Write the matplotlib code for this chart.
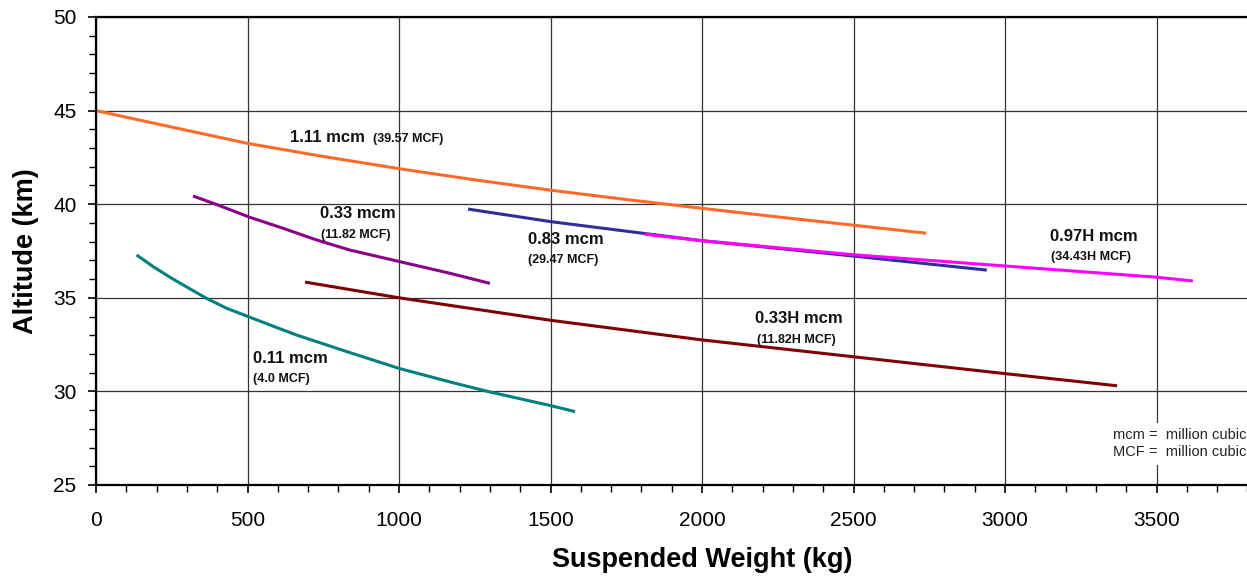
import matplotlib
matplotlib.use("Agg")
import matplotlib.pyplot as plt
from matplotlib.ticker import MultipleLocator

plt.rcParams['font.family'] = ['Liberation Sans', 'DejaVu Sans']

# ---- data ----
orange_x = [0, 250, 500, 750, 1000, 1250, 1500, 1750, 2000, 2250, 2500, 2740]
orange_y = [45.0, 44.12, 43.25, 42.55, 41.9, 41.3, 40.75, 40.25, 39.78, 39.32, 38.88, 38.45]

purple_x = [320, 400, 508, 618, 728, 838, 1003, 1168, 1300]
purple_y = [40.44, 39.97, 39.3, 38.71, 38.09, 37.55, 36.93, 36.31, 35.77]

teal_x = [134, 189, 244, 299, 365, 431, 497, 574, 662, 739, 827, 1000, 1179, 1300, 1498, 1581]
teal_y = [37.29, 36.66, 36.1, 35.58, 34.97, 34.44, 34.03, 33.55, 33.01, 32.6, 32.13,
          31.23, 30.46, 29.97, 29.25, 28.92]

brown_x = [690, 1000, 1500, 2000, 2500, 3000, 3370]
brown_y = [35.84, 35.0, 33.8, 32.75, 31.85, 30.95, 30.3]

navy_x = [1228, 1500, 1828, 2000, 2500, 2940]
navy_y = [39.74, 39.07, 38.4, 38.05, 37.23, 36.48]

magenta_x = [1810, 2000, 2500, 3000, 3500, 3620]
magenta_y = [38.4, 38.05, 37.3, 36.7, 36.1, 35.9]

x_ticks = [0, 500, 1000, 1500, 2000, 2500, 3000, 3500]
y_ticks = [25, 30, 35, 40, 45, 50]

labels_main = ["1.11 mcm", "0.33 mcm", "0.83 mcm", "0.97H mcm", "0.33H mcm", "0.11 mcm"]
labels_sub = ["(39.57 MCF)", "(11.82 MCF)", "(29.47 MCF)", "(34.43H MCF)", "(11.82H MCF)", "(4.0 MCF)"]
main_pos = [(640, 43.34), (739, 39.25), (1425, 37.86), (3149, 38.03), (2175, 33.64), (517, 31.53)]
sub_pos = [(914, 43.34), (741, 38.18), (1427, 36.84), (3152, 37.02), (2180, 32.57), (518, 30.52)]

note_text = "mcm =  million cubic meters\nMCF =  million cubic feet"

# ---- figure ----
fig = plt.figure(figsize=(12.47, 5.77), dpi=100)
ax = fig.add_axes([96/1247, (577-485)/577, 1212/1247, (485-17)/577])

ax.set_xlim(0, 4000)
ax.set_ylim(25, 50)
ax.set_xticks(x_ticks)
ax.set_yticks(y_ticks)
ax.xaxis.set_minor_locator(MultipleLocator(100))
ax.yaxis.set_minor_locator(MultipleLocator(1))
ax.grid(True, which='major', color='#333333', linewidth=0.9)
ax.set_axisbelow(True)

ax.tick_params(axis='both', which='major', direction='out', length=6, width=1.2,
               labelsize=15, color='black')
ax.tick_params(axis='both', which='minor', direction='out', length=5, width=1.0)
ax.tick_params(axis='x', which='major', pad=13)
ax.tick_params(axis='y', which='major', pad=8)
for s in ax.spines.values():
    s.set_linewidth(1.6)
    s.set_color('black')

lw = 2.2
ax.plot(orange_x, orange_y, color='#FF6A2A', lw=lw, solid_capstyle='butt')
ax.plot(purple_x, purple_y, color='#8B008B', lw=lw, solid_capstyle='butt')
ax.plot(teal_x, teal_y, color='#008080', lw=lw, solid_capstyle='butt')
ax.plot(brown_x, brown_y, color='#800000', lw=lw, solid_capstyle='butt')
ax.plot(navy_x, navy_y, color='#2E2E99', lw=lw, solid_capstyle='butt')
ax.plot(magenta_x, magenta_y, color='#FF00FF', lw=lw, solid_capstyle='butt')

for t, (x, y) in zip(labels_main, main_pos):
    ax.text(x, y, t, fontsize=12, fontweight='bold', ha='left', va='baseline', color='#111111')
for t, (x, y) in zip(labels_sub, sub_pos):
    ax.text(x, y, t, fontsize=9, fontweight='bold', ha='left', va='baseline', color='#111111')

ax.text(3356, 26.55, note_text, fontsize=10.5, ha='left', va='baseline',
        color='#222222', linespacing=1.25,
        bbox=dict(facecolor='white', edgecolor='none', pad=4))

ax.set_xlabel("Suspended Weight (kg)", fontsize=19.5, fontweight='bold', labelpad=12)
ax.set_ylabel("Altitude (km)", fontsize=19.5, fontweight='bold', labelpad=10)

fig.savefig("out.png", dpi=100)
